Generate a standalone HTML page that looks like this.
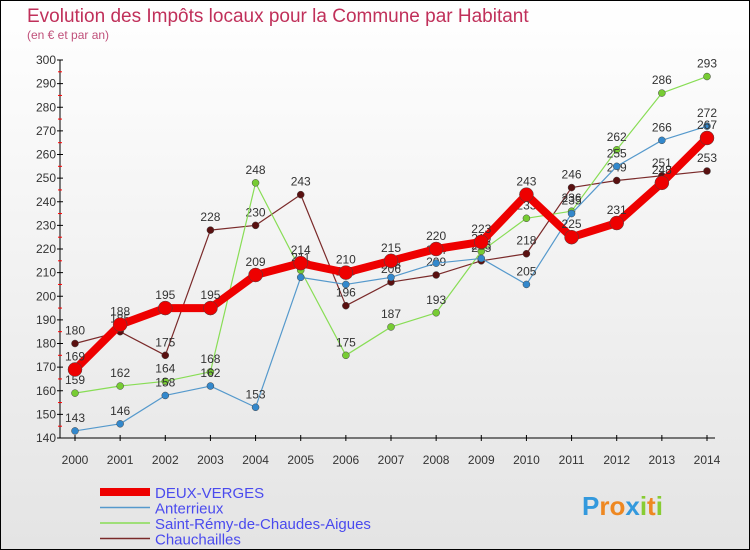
<!DOCTYPE html>
<html><head><meta charset="utf-8"><style>
body{margin:0;width:750px;height:550px;overflow:hidden}
#c{position:absolute;left:0;top:0;width:748px;height:548px;border:1px solid #000;background:linear-gradient(#fff,#e4e4e4)}
svg{position:absolute;left:0;top:0}
text{font-family:"Liberation Sans",sans-serif}
</style></head><body>
<div id="c"></div>
<svg id="s" width="750" height="550"></svg>
<script>
const years=[2000,2001,2002,2003,2004,2005,2006,2007,2008,2009,2010,2011,2012,2013,2014];
const deux=[169,188,195,195,209,214,210,215,220,223,243,225,231,248,267];
const anter=[143,146,158,162,153,208,205,208,214,216,205,235,255,266,272];
const remy=[159,162,164,168,248,211,175,187,193,219,233,236,262,286,293];
const chauch=[180,185,175,228,230,243,196,206,209,215,218,246,249,251,253];
const yTicks=[140,150,160,170,180,190,200,210,220,230,240,250,260,270,280,290,300];
const names=["DEUX-VERGES","Anterrieux","Saint-Rémy-de-Chaudes-Aigues","Chauchailles"];
const S=document.getElementById('s');const NS='http://www.w3.org/2000/svg';
function X(i){return 75+i*(707-75)/14}
function Y(v){return 438-(v-140)*(438-60)/160}
function el(t,a,p){const e=document.createElementNS(NS,t);for(const k in a)e.setAttribute(k,a[k]);(p||S).appendChild(e);return e}
let t=el('text',{x:27,y:22,'font-size':19,fill:'#c0305a'});t.textContent='Evolution des Impôts locaux pour la Commune par Habitant';

t=el('text',{x:27,y:39,'font-size':12,fill:'#c0507a'});t.textContent='(en € et par an)';

let a=el('line',{x1:60,y1:60,x2:60,y2:438,stroke:'#000'});
a=el('line',{x1:60,y1:438,x2:715,y2:438,stroke:'#000'});
yTicks.forEach((v,i)=>{el('line',{x1:57,y1:Y(v),x2:63,y2:Y(v),stroke:'#000'});
 if(i<yTicks.length-1)el('line',{x1:58,y1:Y(v+5),x2:62,y2:Y(v+5),stroke:'#f00'});
 const tx=el('text',{x:56,y:Y(v)+4,'font-size':12,fill:'#333','text-anchor':'end'});tx.textContent=v;
 });
years.forEach((y,i)=>{el('line',{x1:X(i),y1:435,x2:X(i),y2:441,stroke:'#000'});
 const tx=el('text',{x:X(i),y:464,'font-size':12,fill:'#333','text-anchor':'middle'});tx.textContent=y;
 });
function series(d,col,w,r,nm,dot){
 const p=el('polyline',{points:d.map((v,i)=>X(i)+','+Y(v)).join(' '),fill:'none',stroke:col,'stroke-width':w,'stroke-linejoin':'round'});
 
 d.forEach((v,i)=>{const c=el('circle',{cx:X(i),cy:Y(v),r:r,fill:dot||col,stroke:'#444','stroke-width':0.5});
  
  const tx=el('text',{x:X(i),y:Y(v)-9,'font-size':12,fill:'#333','text-anchor':'middle'});tx.textContent=v;
  });
}
series(chauch,'#7a2a2a',1.2,3.5,'chauchailles','#5a1010');
series(remy,'#88dd55',1.2,3.5,'saint-remy','#77cc33');
series(anter,'#5599cc',1.2,3.5,'anterrieux','#3388cc');
series(deux,'#ee0000',8,7,'deux-verges','#ee0000');
const lc=['#ee0000','#5599cc','#88dd55','#7a2a2a'],lw=[8,1.5,1.5,1.5];
names.forEach((n,i)=>{const yy=492+i*15.5;
 const l=el('line',{x1:100,y1:yy,x2:150,y2:yy,stroke:lc[i],'stroke-width':lw[i]});
 
 const tx=el('text',{x:155,y:yy+6,'font-size':15,fill:'#4a4aee'});tx.textContent=n;
 });
const lg=el('text',{x:582,y:515,'font-size':26,'font-weight':'bold',fill:'#3399dd'});

[['P','#3399dd'],['ro','#ee8822'],['x','#3399dd'],['i','#88cc33'],['t','#ee8822'],['i','#88cc33']].forEach(p=>{const s=el('tspan',{fill:p[1]},lg);s.textContent=p[0];});
</script>
</body></html>
